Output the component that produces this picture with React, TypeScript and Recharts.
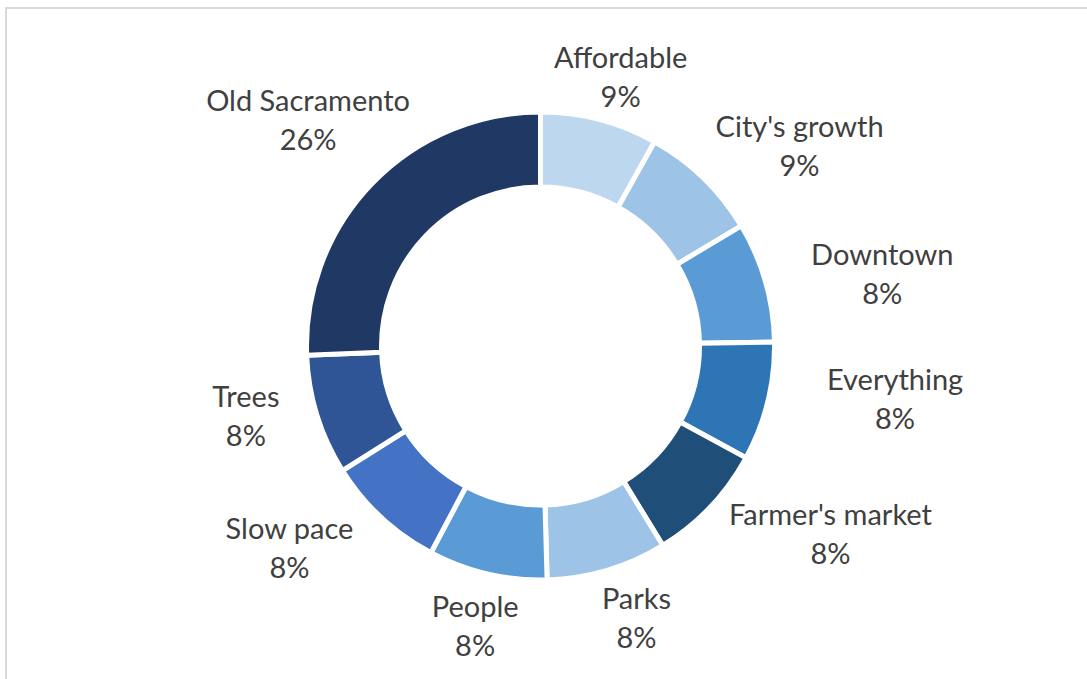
import { Cell, Pie, PieChart } from "recharts";

// slices, clockwise from 12 o'clock
const topics = [
  "Affordable",
  "City's growth",
  "Downtown",
  "Everything",
  "Farmer's market",
  "Parks",
  "People",
  "Slow pace",
  "Trees",
  "Old Sacramento",
];
// shares
const shares = [8.1, 8.3, 8.3, 8.2, 8.3, 8.3, 8.2, 8.3, 8.3, 25.6];
// percentages as printed on the labels
const pctLabels = ["9%", "9%", "8%", "8%", "8%", "8%", "8%", "8%", "8%", "26%"];

const colors = [
  "#BDD7EE",
  "#9DC3E6",
  "#5B9BD5",
  "#2E75B6",
  "#1F4E79",
  "#9DC3E6",
  "#5B9BD5",
  "#4472C4",
  "#2F5597",
  "#203864",
];

// hand-placed label tweaks (px), like the manual placement in the source
const labelNudge: Array<[number, number]> = [
  [5, 19],
  [28, 37],
  [27, 17],
  [40, -25],
  [39, -51],
  [13, -8],
  [1, -5],
  [-35, -32],
  [-16, -17],
  [17, 13],
];

const data = topics.map((name, i) => ({ name, value: shares[i], pct: pctLabels[i] }));

const FONT = "29px Lato";
const LINE = 39;
const RADIAN = Math.PI / 180;

let ctx: CanvasRenderingContext2D | null = null;
function textWidth(s: string) {
  if (!ctx) ctx = document.createElement("canvas").getContext("2d");
  if (!ctx) return s.length * 15;
  ctx.font = FONT;
  return ctx.measureText(s).width;
}

function renderLabel(props: any) {
  const { cx, cy, midAngle, index } = props;
  const name = topics[index];
  const pct = pctLabels[index];
  const w = Math.max(textWidth(name), textWidth(pct));
  const h = 65;
  const dx = Math.cos(-midAngle * RADIAN);
  const dy = Math.sin(-midAngle * RADIAN);
  const dist = 250 + Math.abs(dx) * (w / 2) + Math.abs(dy) * (h / 2);
  const x = cx + dist * dx + labelNudge[index][0];
  const y = cy + dist * dy + labelNudge[index][1];
  return (
    <g key={"lbl-" + index}>
      <text x={x} y={y - LINE / 2} textAnchor="middle" dominantBaseline="central" fill="#404040" style={{ font: FONT }}>
        {name}
      </text>
      <text x={x} y={y + LINE / 2} textAnchor="middle" dominantBaseline="central" fill="#404040" style={{ font: FONT }}>
        {pct}
      </text>
    </g>
  );
}

export default function App() {
  return (
    <div style={{ position: "absolute", left: 0, top: 0, width: 1087, height: 679, background: "#fff", overflow: "hidden" }}>
      <div
        style={{
          position: "absolute",
          left: 5,
          top: 7,
          width: 1120,
          height: 720,
          border: "2px solid #d9d9d9",
        }}
      />
      <div style={{ position: "absolute", left: 0, top: 0 }}>
        <PieChart width={1087} height={679} margin={{ top: 0, right: 0, bottom: 0, left: 0 }}>
          <Pie
            data={data}
            dataKey="value"
            nameKey="name"
            cx={540.5}
            cy={346}
            startAngle={90}
            endAngle={-270}
            innerRadius={159}
            outerRadius={234}
            stroke="#ffffff"
            strokeWidth={5}
            label={renderLabel}
            labelLine={false}
            isAnimationActive={false}
          >
            {data.map((entry, index) => (
              <Cell key={entry.name} fill={colors[index]} />
            ))}
          </Pie>
        </PieChart>
      </div>
    </div>
  );
}
